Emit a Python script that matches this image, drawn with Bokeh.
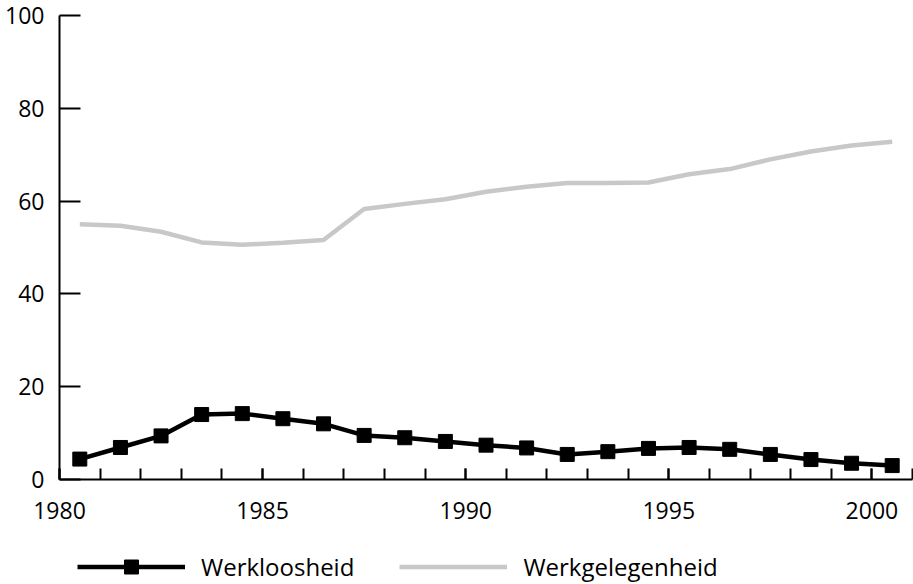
from bokeh.plotting import figure
from bokeh.models import FixedTicker, Legend, LegendItem, Range1d
from bokeh.embed import file_html
from bokeh.resources import INLINE

# Data
jaren = list(range(1980, 2001))
werkloosheid = [4.4, 6.9, 9.4, 14.0, 14.2, 13.1, 12.0, 9.5, 9.0, 8.2, 7.4,
                6.8, 5.4, 6.0, 6.7, 6.9, 6.5, 5.4, 4.3, 3.5, 3.0]
werkgelegenheid = [55.0, 54.7, 53.4, 51.1, 50.6, 51.0, 51.6, 58.3, 59.4, 60.4, 62.0,
                   63.1, 63.9, 63.9, 64.0, 65.8, 66.9, 69.0, 70.7, 72.0, 72.8]
x_label_ticks = [1980, 1985, 1990, 1995, 2000]
x_minor_ticks = list(range(1980, 2002))
y_ticks = [0, 20, 40, 60, 80, 100]

# plot each year in the middle of its interval
xs = [j + 0.5 for j in jaren]

FONT = "Open Sans"
W, H = 913, 584
AX_LEFT, AX_RIGHT, AX_TOP, AX_BOTTOM = 59, 912, 15, 479   # pixel geometry of the axes box
px_per_year = (AX_RIGHT - AX_LEFT) / 21.0
px_per_unit = (AX_BOTTOM - AX_TOP) / 100.0
x_start = 1980 - AX_LEFT / px_per_year
x_end = 2001 + (W - AX_RIGHT) / px_per_year
y_start = -(H - AX_BOTTOM) / px_per_unit
y_end = 100 + AX_TOP / px_per_unit

# the frame covers the whole picture; the axes are fixed at x=1980 and y=0
p = figure(width=W, height=H, output_backend="svg", toolbar_location=None,
           x_range=Range1d(x_start, x_end), y_range=Range1d(y_start, y_end),
           min_border_left=0, min_border_right=0, min_border_top=0,
           min_border_bottom=0)
p.outline_line_color = None
p.xgrid.visible = False
p.ygrid.visible = False
p.background_fill_color = "white"
p.border_fill_color = "white"

r_gel = p.line(xs, werkgelegenheid, line_color="#c8c8c8", line_width=4.5)
r_loos_line = p.line(xs, werkloosheid, line_color="black", line_width=4.5)
r_loos_pts = p.scatter(xs, werkloosheid, marker="square", size=14,
                       fill_color="black", line_color="black")

xa = p.xaxis[0]
xa.fixed_location = 0
xa.bounds = (1980, 2001)
xa.ticker = FixedTicker(ticks=x_label_ticks, minor_ticks=x_minor_ticks)
xa.major_tick_in = 11
xa.major_tick_out = 0
xa.minor_tick_in = 11
xa.minor_tick_out = 0
xa.axis_line_width = 2
xa.major_tick_line_width = 2
xa.minor_tick_line_width = 2
xa.major_label_text_font = FONT
xa.major_label_text_font_size = "23px"
xa.major_label_text_color = "black"
xa.major_label_standoff = 22

ya = p.yaxis[0]
ya.fixed_location = 1980
ya.bounds = (0, 100)
ya.ticker = FixedTicker(ticks=y_ticks)
ya.major_tick_in = 21
ya.major_tick_out = 0
ya.minor_tick_in = 0
ya.minor_tick_out = 0
ya.axis_line_width = 2
ya.major_tick_line_width = 2
ya.major_label_text_font = FONT
ya.major_label_text_font_size = "23px"
ya.major_label_text_color = "black"
ya.major_label_standoff = 15

legend = Legend(items=[
    LegendItem(label="Werkloosheid", renderers=[r_loos_line, r_loos_pts]),
    LegendItem(label="Werkgelegenheid", renderers=[r_gel]),
], orientation="horizontal", location=(77, 0))
legend.glyph_width = 108
legend.glyph_height = 35
legend.label_standoff = 16
legend.spacing = 45
legend.padding = 0
legend.margin = 0
legend.border_line_color = None
legend.background_fill_alpha = 0
legend.label_text_font = FONT
legend.label_text_font_size = "24px"
legend.label_text_color = "black"
p.add_layout(legend, "center")

open("out.html", "w").write(file_html(p, INLINE))
